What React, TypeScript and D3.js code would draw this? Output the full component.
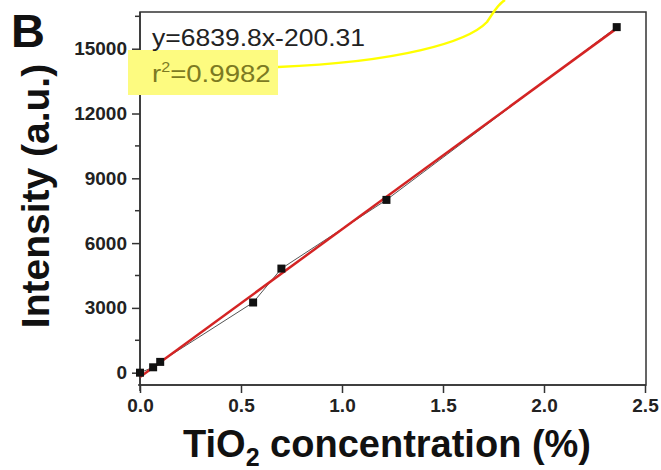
import * as d3 from 'd3';
import { useEffect, useRef } from 'react';

// TiO2 concentration (%) vs intensity (a.u.)
const concentration = [0, 0.065, 0.1, 0.56, 0.7, 1.22, 2.36];
const intensity = [0, 250, 500, 3250, 4820, 8000, 16000];
const slope = 6839.8;
const intercept = -200.31;
const xTicks = [0, 0.5, 1.0, 1.5, 2.0, 2.5];
const yTicks = [0, 3000, 6000, 9000, 12000, 15000];
const yMinorTicks = [1500, 4500, 7500, 10500, 13500, 16500];

function App() {
  const ref = useRef<SVGSVGElement>(null);

  useEffect(() => {
    const w = 661, h = 470;
    const left = 140, right = 645, top = 12, bottom = 385;
    const font = '"Liberation Sans", Arial, sans-serif';

    const svg = d3.select(ref.current);
    svg.selectAll('*').remove();
    svg.attr('width', w).attr('height', h);

    const x = d3.scaleLinear().domain([0, 2.5]).range([left, right]);
    const y = d3.scaleLinear().domain([-570, 16700]).range([bottom, top]);

    // frame
    svg.append('rect')
        .attr('x', left).attr('y', top)
        .attr('width', right + 1 - left).attr('height', bottom - top)
        .attr('fill', 'none')
        .attr('stroke', '#333')
        .attr('stroke-width', 1.5);

    // y axis
    const yAxis = svg.append('g')
        .attr('transform', `translate(${left},0)`)
        .call(d3.axisLeft(y).tickValues(yTicks).tickSize(8).tickPadding(5).tickFormat(d3.format('d')));
    yAxis.select('.domain').attr('stroke', '#333').attr('stroke-width', 1.5)
        .attr('d', `M0,${top}V${bottom + 6}`);
    yAxis.selectAll('.tick line').attr('stroke', '#333').attr('stroke-width', 1.5);
    yAxis.selectAll('.tick text')
        .attr('fill', '#222')
        .style('font-family', font)
        .style('font-weight', 'bold')
        .style('font-size', '19px');
    svg.append('g').selectAll('line').data(yMinorTicks).join('line')
        .attr('x1', left - 5).attr('x2', left)
        .attr('y1', d => y(d)).attr('y2', d => y(d))
        .attr('stroke', '#333').attr('stroke-width', 1.5);

    // x axis
    const xAxis = svg.append('g')
        .attr('transform', `translate(0,${bottom})`)
        .call(d3.axisBottom(x).tickValues(xTicks).tickSize(8).tickPadding(6).tickFormat(d3.format('.1f')));
    xAxis.select('.domain').attr('stroke', '#333').attr('stroke-width', 1.5)
        .attr('d', `M${left - 2},0H${right + 1}`);
    xAxis.selectAll('.tick line').attr('stroke', '#333').attr('stroke-width', 1.5);
    xAxis.selectAll('.tick text')
        .attr('fill', '#222')
        .style('font-family', font)
        .style('font-weight', 'bold')
        .style('font-size', '19px');

    // data line
    const pts = concentration.map((c, i) => [c, intensity[i]] as [number, number]);
    svg.append('path')
        .datum(pts)
        .attr('d', d3.line().x(d => x(d[0])).y(d => y(d[1])))
        .attr('fill', 'none')
        .attr('stroke', '#555')
        .attr('stroke-width', 1);

    // fit line
    const xMax = d3.max(concentration) as number;
    svg.append('path')
        .datum([0, xMax])
        .attr('d', d3.line<number>().x(d => x(d)).y(d => y(slope * d + intercept)))
        .attr('fill', 'none')
        .attr('stroke', '#d42424')
        .attr('stroke-width', 2.5);

    // markers
    svg.append('g').selectAll('rect').data(pts).join('rect')
        .attr('x', d => x(d[0]) - 4)
        .attr('y', d => y(d[1]) - 4)
        .attr('width', 8).attr('height', 8)
        .attr('fill', '#111');

    // annotations
    svg.append('rect')
        .attr('x', 128).attr('y', 50)
        .attr('width', 150).attr('height', 45)
        .attr('fill', '#fdfb80');
    svg.append('path')
        .attr('d', 'M278,67 C400,62 468,42 487,22 C494,12 497,5 505,0')
        .attr('fill', 'none')
        .attr('stroke', '#ffff00')
        .attr('stroke-width', 2.5);

    svg.append('text')
        .attr('x', 152).attr('y', 46)
        .attr('textLength', 213)
        .attr('lengthAdjust', 'spacingAndGlyphs')
        .attr('fill', '#222')
        .style('font-family', font)
        .style('font-size', '23px')
        .text(`y=${slope}x${intercept}`);

    const r2 = svg.append('g')
        .attr('transform', 'translate(152,82) scale(1.15,1)')
        .append('text')
        .attr('fill', '#7c7a22')
        .style('font-family', font)
        .style('font-size', '24px');
    r2.append('tspan').text('r');
    r2.append('tspan').attr('dy', -10).style('font-size', '14px').text('2');
    r2.append('tspan').attr('dy', 10).text('=0.9982');

    svg.append('text')
        .attr('x', 11).attr('y', 47)
        .attr('fill', '#111')
        .style('font-family', font)
        .style('font-weight', 'bold')
        .style('font-size', '47px')
        .text('B');

    // axis titles
    svg.append('text')
        .attr('transform', 'translate(49,196) rotate(-90)')
        .attr('text-anchor', 'middle')
        .attr('fill', '#111')
        .style('font-family', font)
        .style('font-weight', 'bold')
        .style('font-size', '39px')
        .text('Intensity (a.u.)');

    const xt = svg.append('text')
        .attr('x', 387).attr('y', 457)
        .attr('text-anchor', 'middle')
        .attr('fill', '#111')
        .style('font-family', font)
        .style('font-weight', 'bold')
        .style('font-size', '38px');
    xt.append('tspan').text('TiO');
    xt.append('tspan').attr('dy', 9).style('font-size', '25px').text('2');
    xt.append('tspan').attr('dy', -9).text(' concentration (%)');
  }, []);

  return <svg ref={ref} style={{ position: 'absolute', left: 0, top: 0 }} />;
}

export default App;
